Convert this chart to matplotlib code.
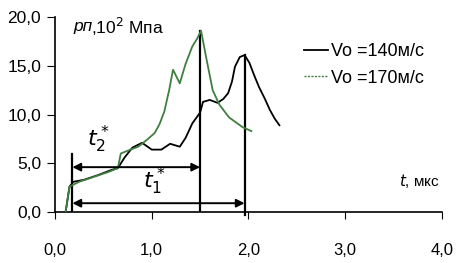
import matplotlib
matplotlib.use("Agg")
import matplotlib.pyplot as plt
from matplotlib.lines import Line2D

plt.rcParams['font.family'] = ['Liberation Sans', 'DejaVu Sans']

# Series: Vo = 140 m/s (black)
t140 = [0.11, 0.15, 0.19, 0.30, 0.45, 0.58, 0.65, 0.72, 0.80, 0.90, 1.00, 1.10, 1.19, 1.29,
        1.35, 1.42, 1.50, 1.53, 1.60, 1.68, 1.74, 1.79, 1.83, 1.86, 1.91, 1.96, 2.01,
        2.06, 2.11, 2.17, 2.22, 2.27, 2.32]
p140 = [0.0, 2.6, 3.1, 3.3, 3.8, 4.3, 4.5, 5.6, 6.6, 7.1, 6.4, 6.4, 7.0, 6.7,
        7.6, 9.1, 10.2, 11.3, 11.5, 11.2, 11.6, 12.2, 13.4, 14.9, 15.9, 16.1, 15.3,
        14.0, 12.8, 11.6, 10.5, 9.6, 8.9]

# Series: Vo = 170 m/s (green)
t170 = [0.11, 0.15, 0.25, 0.40, 0.55, 0.65, 0.68, 0.78, 0.86, 0.95, 1.03, 1.08, 1.13, 1.18,
        1.22, 1.29, 1.35, 1.42, 1.47, 1.51, 1.56, 1.63, 1.70, 1.80, 1.87, 1.94, 2.03]
p170 = [0.0, 2.6, 3.1, 3.6, 4.1, 4.5, 6.0, 6.4, 6.7, 7.4, 8.1, 9.0, 10.3, 12.5,
        14.6, 13.2, 15.2, 17.0, 17.8, 18.6, 16.0, 12.5, 11.0, 9.7, 9.2, 8.7, 8.3]

xticks = [0.0, 1.0, 2.0, 3.0, 4.0]
yticks = [0.0, 5.0, 10.0, 15.0, 20.0]
xtick_labels = ["0,0", "1,0", "2,0", "3,0", "4,0"]
ytick_labels = ["0,0", "5,0", "10,0", "15,0", "20,0"]

# interval markers
t_start = 0.18
t2_end = 1.50
t1_end = 1.96
p_t2_arrow = 4.6
p_t1_arrow = 0.9

fig = plt.figure(figsize=(4.64, 2.63), dpi=100)
ax = fig.add_axes([0.1185, 0.194, 0.834, 0.741])

green = '#3f7f3f'
ax.plot(t140, p140, color='black', lw=1.3, zorder=3)
ax.plot(t170, p170, color=green, lw=1.3, zorder=3)

# vertical lines
ax.plot([t_start, t_start], [0, 6.0], color='black', lw=1.6)
ax.plot([t2_end, t2_end], [0, 18.6], color='black', lw=1.6)
ax.plot([t1_end, t1_end], [-0.3, 16.1], color='black', lw=1.6, clip_on=False)

# arrows
for y, xe in [(p_t2_arrow, t2_end), (p_t1_arrow, t1_end)]:
    ax.annotate('', xy=(xe, y), xytext=(t_start, y),
                arrowprops=dict(arrowstyle='<|-|>', color='black', lw=1.4,
                                mutation_scale=12, shrinkA=0, shrinkB=0))

ax.text(0.45, 7.4, r'$t_2^*$', fontsize=16, ha='center', va='center')
ax.text(1.03, 3.1, r'$t_1^*$', fontsize=16, ha='center', va='center')

ax.text(0.19, 19.0, 'рп', fontsize=12.5, style='italic', ha='left', va='center')
ax.text(0.37, 19.0, ',10$^2$ Мпа', fontsize=12.5, ha='left', va='center')
ax.text(3.98, 3.2, r'$t$, мкс', fontsize=11, ha='right', va='center')

handles = [Line2D([], [], color='black', lw=1.3),
           Line2D([], [], color=green, lw=1.0, ls=(0, (1.5, 1)))]
ax.legend(handles, ['Vo =140м/с', 'Vo =170м/с'], loc='upper left',
          bbox_to_anchor=(0.625, 0.905), frameon=False, fontsize=13,
          handlelength=1.3, handletextpad=0.2, labelspacing=0.55, borderaxespad=0)

ax.set_xlim(0, 4.0)
ax.set_ylim(0, 20.0)
ax.set_xticks(xticks)
ax.set_xticklabels(xtick_labels)
ax.set_yticks(yticks)
ax.set_yticklabels(ytick_labels)
ax.tick_params(axis='x', direction='out', length=5, pad=17, labelsize=12)
ax.tick_params(axis='y', direction='out', length=6, pad=4, labelsize=12.5)
for s in ['top', 'right']:
    ax.spines[s].set_visible(False)
for s in ['left', 'bottom']:
    ax.spines[s].set_linewidth(1.2)

fig.savefig('out.png', dpi=100)
